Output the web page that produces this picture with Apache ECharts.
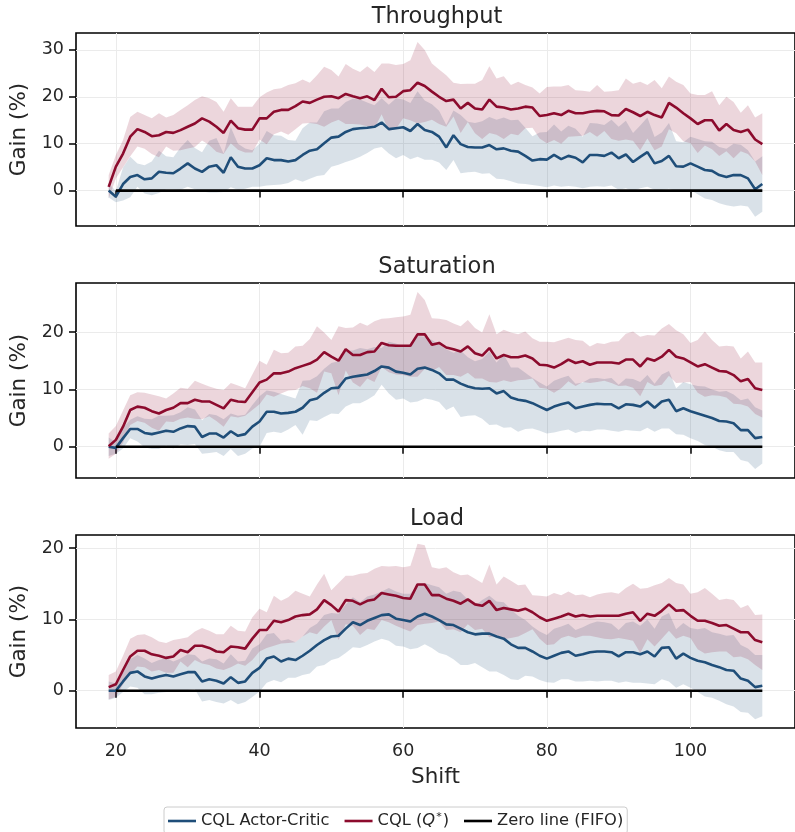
<!DOCTYPE html>
<html>
<head>
<meta charset="utf-8">
<script src="https://cdn.jsdelivr.net/npm/echarts@6/dist/echarts.min.js"></script>
<style>
html,body{margin:0;padding:0;background:#fff;}
#chart{width:795px;height:832px;}
</style>
</head>
<body>
<div id="chart"></div>
<script>
// ---- data (shift 19..110) ----
const shiftStart = 19, shiftEnd = 110;
const shifts = [];
for (let s = shiftStart; s <= shiftEnd; s++) shifts.push(s);
const zeroShifts = shifts.filter(s => s >= 20);

const panelTitles = ['Throughput', 'Saturation', 'Load'];
const xTicks = [20, 40, 60, 80, 100];
const yTicks = [[0, 10, 20, 30], [0, 10, 20], [0, 10, 20]];
const seriesNames = ['CQL Actor-Critic', 'CQL (Q*)', 'Zero line (FIFO)'];

// Throughput
const tpAC = [0,-1.3,1.4,2.9,3.3,2.4,2.6,4.0,3.8,3.7,
  4.7,5.8,4.7,4.0,5.1,5.4,3.8,7.1,5.1,4.7,
  4.7,5.4,6.9,6.5,6.5,6.2,6.5,7.6,8.5,8.8,
  10.1,11.3,11.5,12.5,13.1,13.3,13.4,13.6,14.5,13.1,
  13.3,13.5,12.7,14.2,12.9,12.5,11.5,9.2,11.8,9.9,
  9.3,9.2,9.2,9.7,8.8,9.0,8.5,8.3,7.4,6.4,
  6.7,6.6,7.6,6.7,7.4,7.0,6.0,7.6,7.6,7.4,
  8.1,6.9,7.7,6.1,7.2,8.2,5.8,6.3,7.4,5.2,
  5.1,5.8,5.1,4.4,4.2,3.3,2.9,3.3,3.3,2.6,
  0.3,1.4];
const tpACsd = [1.5,1.2,3.5,4.3,2.5,3.0,3.6,4.5,3.5,3.4,
  4.5,5.0,4.4,4.2,5.5,5.8,4.1,6.4,4.9,4.3,
  3.9,4.6,5.8,5.3,5.2,4.6,4.1,5.7,6.0,5.7,
  6.8,6.2,6.0,6.4,6.5,6.1,5.4,4.6,5.2,5.2,
  6.4,5.9,6.0,7.0,6.3,5.9,5.5,4.8,5.3,6.2,
  5.4,5.2,5.6,6.0,6.3,6.6,6.5,6.8,6.0,5.2,
  5.7,5.9,6.5,5.9,6.4,6.2,5.5,6.8,6.7,6.6,
  7.0,6.7,7.2,6.2,6.7,7.4,5.6,6.1,7.0,5.3,
  5.2,5.7,5.9,6.1,6.2,6.0,6.0,6.7,6.5,6.0,
  5.9,5.9];
const tpQ = [0.8,5.1,7.9,11.5,13.1,12.5,11.6,11.8,12.5,12.3,
  12.9,13.6,14.3,15.4,14.7,13.6,12.3,14.9,13.3,13.0,
  13.0,15.4,15.4,16.8,17.2,17.2,18.0,19.0,18.7,19.4,
  20.0,20.1,19.7,20.6,20.1,19.7,20.1,19.3,21.7,19.9,
  20.0,21.2,21.4,23.0,22.3,21.1,20.0,19.1,19.4,17.5,
  18.7,17.5,17.3,19.4,17.9,17.7,17.3,17.5,17.9,17.7,
  15.9,16.1,16.5,16.1,17.0,16.5,16.5,16.8,17.0,16.9,
  16.1,16.0,17.4,16.7,15.9,16.8,16.1,15.6,18.7,17.7,
  16.5,15.4,14.2,15.0,15.0,12.8,14.2,12.9,12.5,13.0,
  10.9,9.9];
const tpQsd = [2.5,2.5,2.9,4.2,3.7,3.6,3.8,4.7,3.1,3.8,
  4.3,4.6,5.0,4.7,5.0,5.3,4.5,4.8,4.6,4.9,
  4.9,4.5,5.5,4.8,4.6,5.3,4.9,4.7,4.3,5.2,
  6.4,5.6,4.6,6.4,5.9,5.6,6.4,6.0,5.4,7.2,
  6.8,5.8,6.4,8.7,7.7,6.0,5.8,5.5,3.6,5.2,
  4.1,5.3,6.3,7.1,6.0,6.7,5.2,5.7,4.6,4.3,
  4.8,6.0,5.7,6.1,5.5,4.9,4.8,4.3,5.5,4.2,
  5.1,5.4,6.5,6.1,7.3,5.7,7.5,6.2,5.6,5.5,
  6.0,5.3,6.2,5.4,6.2,5.4,5.8,6.0,4.1,5.2,
  4.7,6.6];

// Saturation
const satAC = [0,-0.2,1.5,3.1,3.1,2.4,2.2,2.5,2.8,2.6,
  3.2,3.6,3.5,1.7,2.3,2.3,1.6,2.7,1.9,2.2,
  3.5,4.4,6.1,6.1,5.8,5.9,6.1,6.8,8.1,8.4,
  9.4,10.2,10.3,11.9,12.2,12.4,12.6,13.2,14.0,13.8,
  13.1,12.9,12.6,13.6,13.8,13.4,12.8,11.7,11.7,11.0,
  10.5,10.2,10.1,10.2,9.3,9.7,8.6,8.2,8.0,7.6,
  7.0,6.4,7.0,7.4,7.7,6.7,7.0,7.3,7.5,7.4,
  7.4,6.7,7.4,7.3,7.0,7.9,6.8,7.9,8.2,6.2,
  6.7,6.2,5.8,5.4,5.0,4.5,4.4,4.1,2.9,2.9,
  1.5,1.7];
const satACsd = [1.6,1.0,1.8,1.6,2.2,2.5,2.6,2.9,2.6,2.9,
  2.8,3.3,3.0,2.9,3.4,3.2,3.2,3.1,3.5,3.4,
  3.8,4.4,3.7,3.5,3.4,2.9,2.3,4.7,3.5,3.9,
  4.2,4.4,4.6,4.9,4.6,4.8,4.4,4.2,3.2,4.5,
  4.9,4.5,4.9,5.7,5.4,5.2,5.0,5.3,4.7,5.8,
  5.1,4.7,5.2,6.4,5.4,6.4,5.2,5.6,4.9,4.4,
  4.2,4.1,4.5,4.6,4.7,4.3,4.2,4.6,4.5,4.4,
  4.6,4.1,4.5,4.5,4.3,4.6,4.2,4.7,5.0,4.0,
  4.6,4.7,4.8,5.1,5.0,5.1,5.3,5.0,5.2,5.5,
  5.4,4.6];
const satQ = [0.1,1.2,3.5,6.4,7.0,6.8,6.2,5.8,6.4,6.8,
  7.6,7.6,8.2,7.9,7.9,7.3,6.7,8.2,7.9,7.8,
  9.5,11.2,11.7,12.8,12.8,13.1,13.7,14.1,14.5,15.2,
  16.5,15.7,15.0,17.0,16.0,16.0,16.5,16.6,18.1,17.7,
  17.6,17.6,17.6,19.6,19.6,17.8,18.1,17.3,17.0,16.6,
  17.5,16.3,15.9,17.2,15.4,16.0,15.6,15.6,15.9,15.4,
  14.3,14.2,13.8,14.4,15.2,14.6,14.9,14.3,14.7,14.7,
  14.7,14.5,15.2,15.2,14.0,15.4,15.0,15.7,16.9,15.7,
  15.4,14.7,14.0,14.4,13.8,13.2,13.1,12.5,11.4,11.8,
  10.2,9.9];
const satQsd = [2.2,2.4,2.8,2.6,2.5,2.6,2.9,3.0,2.0,2.5,
  2.7,2.5,3.3,3.1,2.6,2.8,3.2,2.9,2.8,2.4,
  3.1,3.8,2.6,4.1,3.5,3.3,3.8,3.5,4.3,5.8,
  3.4,2.9,6.0,3.7,4.8,5.6,4.6,5.3,4.2,4.7,
  5.0,5.1,5.4,7.4,6.0,4.6,4.2,4.8,4.5,4.4,
  4.6,4.4,4.0,5.9,4.2,4.4,4.3,4.0,4.2,3.5,
  4.0,4.1,4.4,4.2,3.8,4.0,3.6,3.2,3.4,3.2,
  3.6,3.9,4.5,4.9,5.2,4.1,4.4,4.9,4.5,4.6,
  4.2,3.4,4.6,5.7,4.8,4.3,4.5,5.0,4.0,4.8,
  4.5,4.8];

// Load
const loadAC = [0,0,1.3,2.5,2.7,2.0,1.7,2.0,2.2,2.0,
  2.3,2.6,2.6,1.3,1.6,1.4,1.0,1.9,1.1,1.3,
  2.5,3.2,4.5,4.8,4.1,4.5,4.3,4.9,5.6,6.4,
  7.1,7.6,7.7,8.7,9.6,9.2,9.8,10.2,10.6,10.7,
  10.1,9.9,9.7,10.4,10.8,10.4,9.9,9.3,9.2,8.7,
  8.2,7.9,8.0,8.0,7.6,7.3,6.5,6.0,6.0,5.5,
  4.9,4.5,4.9,5.3,5.5,4.9,5.1,5.4,5.5,5.5,
  5.4,4.8,5.4,5.4,5.1,5.5,4.8,6.0,6.1,4.5,
  5.2,4.6,4.2,4.0,3.6,3.3,2.9,2.8,1.7,1.4,
  0.5,0.7];
const loadACsd = [1.3,1.0,1.5,1.9,2.3,2.5,2.2,2.3,2.4,2.1,
  2.2,2.5,2.4,2.8,2.9,3.0,2.8,3.2,3.0,2.9,
  3.4,3.3,3.4,3.3,2.9,2.7,2.5,2.7,3.2,3.0,
  3.5,3.3,3.1,3.4,3.5,3.2,3.4,3.3,3.3,3.7,
  3.8,3.7,3.9,4.4,4.3,4.4,4.6,4.3,4.8,5.1,
  4.6,4.0,4.7,5.3,4.9,5.1,4.9,4.5,3.9,3.5,
  3.4,3.3,3.8,3.7,3.9,3.6,3.8,4.0,4.2,4.1,
  4.0,3.7,4.1,4.3,4.0,4.5,3.9,4.4,4.8,4.1,
  4.3,4.2,4.4,4.8,4.6,4.7,4.8,5.0,4.7,4.5,
  4.5,4.3];
const loadQ = [0.5,0.9,2.9,4.8,5.6,5.6,5.1,4.9,4.6,4.8,
  5.7,5.4,6.3,6.3,6.0,5.5,5.4,6.2,6.1,5.9,
  7.3,8.5,8.5,9.8,9.6,9.9,10.4,10.6,10.7,11.4,
  12.7,12.0,11.1,12.7,12.6,12.1,12.6,12.8,13.7,13.5,
  13.3,13.0,12.9,14.9,14.9,13.4,13.4,12.9,12.6,12.2,
  12.8,12.1,11.9,12.6,11.3,11.6,11.4,11.2,11.5,11.0,
  10.3,9.8,10.1,10.4,10.8,10.4,10.6,10.4,10.5,10.5,
  10.5,10.5,10.8,11.0,9.8,10.8,10.5,11.2,12.1,11.2,
  11.3,10.5,9.8,9.8,9.5,9.1,9.2,8.7,8.2,8.2,
  7.1,6.8];
const loadQsd = [1.7,1.8,2.0,2.5,2.2,2.3,2.4,2.0,2.1,2.3,
  1.6,2.1,2.0,2.5,2.4,2.4,2.5,2.9,2.3,2.4,
  3.0,3.0,2.5,3.5,3.0,3.2,3.6,3.0,2.5,3.5,
  3.7,2.1,4.0,3.4,3.5,4.3,3.9,4.3,3.8,3.9,
  4.2,4.3,4.6,5.7,5.5,3.9,3.7,4.4,4.0,4.0,
  3.5,3.6,3.2,5.1,3.6,4.4,4.0,3.6,3.4,2.4,
  3.0,3.4,3.6,3.0,3.1,3.0,2.9,2.7,3.0,3.2,
  3.3,3.1,3.6,4.0,4.5,3.6,4.3,3.9,3.7,3.9,
  3.6,3.1,4.0,4.6,4.1,3.6,3.7,4.0,3.4,3.8,
  3.5,3.9];

const panels = [
  {ac: tpAC, acSd: tpACsd, q: tpQ, qSd: tpQsd},
  {ac: satAC, acSd: satACsd, q: satQ, qSd: satQsd},
  {ac: loadAC, acSd: loadACsd, q: loadQ, qSd: loadQsd}
];

// ---- styling / layout ----
const BLUE = '#1f4e79', RED = '#8c0b2d';
const BLUE_BAND = 'rgba(31,78,121,0.17)', RED_BAND = 'rgba(140,11,45,0.17)';
const TXT = '#262626';
const FONT = 'DejaVu Sans';
const gridTops = [33, 283, 535];
const gridHeights = [193, 195, 193];
const yRanges = [[-7.55, 33.6], [-5.45, 28.55], [-5.23, 21.83]];
const xRange = [14.45, 114.55];

const grids = [], xAxes = [], yAxes = [], series = [], graphics = [];

function bandSeries(idx, mean, sd, color) {
  const data = shifts.map((s, i) => [s, mean[i] - sd[i], mean[i] + sd[i]]);
  return {
    type: 'custom', xAxisIndex: idx, yAxisIndex: idx, z: 1, silent: true,
    data: data, encode: {x: 0, y: [1, 2]},
    renderItem: function (params, api) {
      if (params.dataIndex !== 0) return null;
      const pts = [];
      for (let i = 0; i < data.length; i++) pts.push(api.coord([data[i][0], data[i][2]]));
      for (let i = data.length - 1; i >= 0; i--) pts.push(api.coord([data[i][0], data[i][1]]));
      return {type: 'polygon', shape: {points: pts}, style: {fill: color}};
    }
  };
}

for (let p = 0; p < 3; p++) {
  grids.push({left: 76, right: -3, top: gridTops[p], height: gridHeights[p],
    show: true, borderColor: '#000', borderWidth: 1.6, backgroundColor: 'transparent'});
  xAxes.push({
    type: 'value', gridIndex: p, min: xRange[0], max: xRange[1],
    axisLine: {show: false},
    axisTick: {show: true, customValues: xTicks, length: 7, lineStyle: {color: '#000', width: 1.5}},
    axisLabel: {show: p === 2, customValues: xTicks, fontSize: 17.5, color: TXT, fontFamily: FONT, margin: 14},
    splitLine: {show: true, lineStyle: {color: '#ebebeb', width: 1}},
    name: p === 2 ? 'Shift' : '', nameLocation: 'middle', nameGap: 38,
    nameTextStyle: {fontSize: 21.5, color: TXT, fontFamily: FONT}
  });
  yAxes.push({
    type: 'value', gridIndex: p, min: yRanges[p][0], max: yRanges[p][1],
    axisLine: {show: false},
    axisTick: {show: true, customValues: yTicks[p], length: 7, lineStyle: {color: '#000', width: 1.5}},
    axisLabel: {customValues: yTicks[p], fontSize: 17.5, color: TXT, fontFamily: FONT, margin: 12},
    splitLine: {show: true, lineStyle: {color: '#ebebeb', width: 1}},
    name: 'Gain (%)', nameLocation: 'middle', nameGap: 45, nameRotate: 90,
    nameTextStyle: {fontSize: 21.5, color: TXT, fontFamily: FONT}
  });
  const d = panels[p];
  series.push(bandSeries(p, d.ac, d.acSd, BLUE_BAND));
  series.push(bandSeries(p, d.q, d.qSd, RED_BAND));
  series.push({type: 'line', name: seriesNames[0], xAxisIndex: p, yAxisIndex: p, z: 3,
    data: shifts.map((s, i) => [s, d.ac[i]]), showSymbol: false, color: BLUE,
    lineStyle: {width: 2.6, color: BLUE}});
  series.push({type: 'line', name: seriesNames[1], xAxisIndex: p, yAxisIndex: p, z: 3,
    data: shifts.map((s, i) => [s, d.q[i]]), showSymbol: false, color: RED,
    lineStyle: {width: 2.6, color: RED}});
  series.push({type: 'line', name: seriesNames[2], xAxisIndex: p, yAxisIndex: p, z: 4,
    data: zeroShifts.map(s => [s, 0]), showSymbol: false, color: '#000',
    lineStyle: {width: 2.6, color: '#000'}});
  graphics.push({type: 'text', x: 437, y: gridTops[p] - 16,
    style: {text: panelTitles[p], textAlign: 'center', textVerticalAlign: 'middle',
      font: '22.5px "DejaVu Sans"', fill: TXT}});
}

const chart = echarts.init(document.getElementById('chart'), null, {renderer: 'canvas'});
chart.setOption({
  animation: false,
  backgroundColor: '#fff',
  textStyle: {fontFamily: FONT},
  grid: grids, xAxis: xAxes, yAxis: yAxes, series: series, graphic: graphics,
  legend: {
    data: seriesNames, left: 164, top: 807, icon: 'rect', itemWidth: 28, itemHeight: 2.6,
    itemGap: 15, padding: [5, 4], borderColor: '#cccccc', borderWidth: 1, borderRadius: 3,
    backgroundColor: '#fff',
    formatter: function (name) {
      return name === 'CQL (Q*)' ? '{n|CQL (}{i|Q}{s|*}{n|)}' : name;
    },
    textStyle: {fontSize: 16.3, color: TXT, fontFamily: FONT,
      rich: {n: {fontSize: 16.3, color: TXT, fontFamily: FONT},
             i: {fontSize: 16.3, fontStyle: 'italic', color: TXT, fontFamily: FONT},
             s: {fontSize: 11, color: TXT, fontFamily: FONT, verticalAlign: 'top', padding: [0, 1, 7, 1]}}}
  }
});
</script>
</body>
</html>
